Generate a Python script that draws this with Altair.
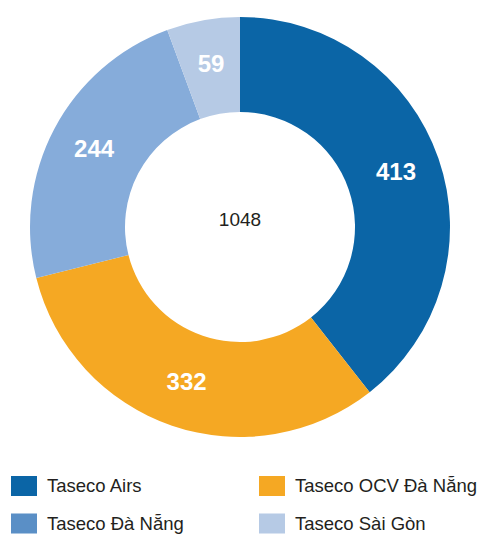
import altair as alt
import pandas as pd

companies = ["Taseco Airs", "Taseco OCV Đà Nẵng", "Taseco Đà Nẵng", "Taseco Sài Gòn"]
values = [413, 332, 244, 59]
slice_colors = ["#0b65a6", "#f5a823", "#86acda", "#b6cae5"]
legend_colors = ["#0b65a6", "#f5a823", "#5a8fc6", "#b6cae5"]
legend_col = [0, 1, 0, 1]
legend_row = [0, 0, 1, 1]
total_label = ["1048"]

df = pd.DataFrame({"company": companies, "value": values, "order": [0, 1, 2, 3]})
leg = pd.DataFrame({"company": companies, "col": legend_col, "row": legend_row})

color_scale = alt.Scale(domain=companies, range=slice_colors)

base = alt.Chart(df).encode(
    theta=alt.Theta("value:Q", stack=True),
    order=alt.Order("order:Q"),
)
arcs = base.mark_arc(innerRadius=115, outerRadius=210, stroke=None).encode(
    color=alt.Color("company:N", scale=color_scale, legend=None)
)
labels = base.mark_text(radius=165, font="Liberation Sans", fontWeight="bold",
                        fontSize=24, color="white", baseline="middle", align="center").encode(
    text="value:Q"
)
center = alt.Chart(pd.DataFrame({"t": total_label})).mark_text(
    font="Liberation Sans", fontSize=19, color="#231f20", baseline="middle", align="center", dy=-7
).encode(text="t:N")

donut = alt.layer(arcs, labels, center).properties(width=464, height=438)

xs = alt.X("col:Q", scale=alt.Scale(domain=[0, 1], range=[16, 264]), axis=None)
ys = alt.Y("row:Q", scale=alt.Scale(domain=[0, 1], range=[40, 77.5]), axis=None)
leg_color = alt.Color("company:N", scale=alt.Scale(domain=companies, range=legend_colors), legend=None)

swatches = alt.Chart(leg).mark_point(
    shape="M-1,-0.77L1,-0.77L1,0.77L-1,0.77Z", size=676, filled=True, opacity=1
).encode(x=xs, y=ys, color=leg_color)
leg_text = alt.Chart(leg).mark_text(
    align="left", baseline="middle", dx=23, fontSize=18.5, font="Liberation Sans", color="#231f20"
).encode(x=xs, y=ys, text="company:N")

legend = alt.layer(swatches, leg_text).properties(width=464, height=90)

chart = alt.vconcat(donut, legend, spacing=0).properties(padding=0).configure_view(
    stroke=None
).resolve_scale(color="independent")

chart.save("out.html", embed_options={"renderer": "svg", "actions": False})
